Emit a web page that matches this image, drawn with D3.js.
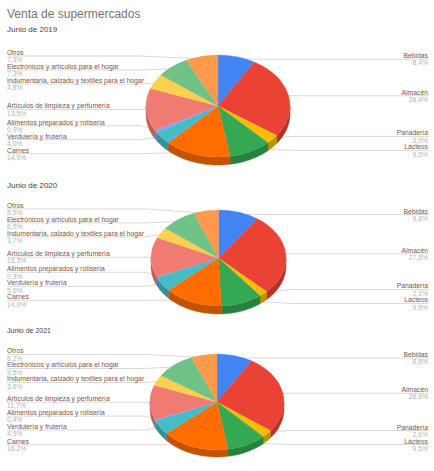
<!DOCTYPE html>
<html>
<head>
<meta charset="utf-8">
<script src="https://cdn.jsdelivr.net/npm/d3@7"></script>
<style>
  body { margin: 0; background: #fff; }
  svg { display: block; font-family: "Liberation Sans", Arial, sans-serif; }
</style>
</head>
<body>
<svg id="chart" width="434" height="471"></svg>
<script>
// rubros, en el orden en que Sheets los dibuja (desde las 12, sentido horario)
const categories = [
  "Bebidas", "Almacén", "Panadería", "Lácteos", "Carnes",
  "Verdulería y frutería", "Alimentos preparados y rotisería",
  "Artículos de limpieza y perfumería",
  "Indumentaria, calzado y textiles para el hogar",
  "Electrónicos y artículos para el hogar", "Otros"
];
const values2019 = [8.4, 26.4, 3.0, 9.5, 14.9, 4.0, 0.9, 13.5, 4.8, 7.3, 7.3];
const values2020 = [9.8, 27.6, 2.1, 9.9, 14.0, 5.0, 0.3, 13.3, 3.7, 8.5, 5.9];
const values2021 = [8.6, 26.6, 2.6, 9.5, 16.2, 4.9, 0.4, 11.7, 3.6, 9.5, 6.2];
const periods = ["Junio de 2019", "Junio de 2020", "Junio de 2021"];
const palette = ["#4285f4", "#ea4335", "#fbbc04", "#34a853", "#ff6d01", "#46bdc6",
                 "#7baaf7", "#f07b72", "#fcd04f", "#71c287", "#ff994d"];

const svg = d3.select("#chart");

svg.append("text")
    .attr("x", 7).attr("y", 18)
    .attr("font-size", 12)
    .attr("fill", "#757575")
    .text("Venta de supermercados");

const fmt = v => d3.format(".1f")(v).replace(".", ",") + "%";

function Pie3D(g, values, {
  cx, cy, rx, ry,
  depth = 8,
  gap = 14,
  leftX = 7,
  rightX = 428,
} = {}) {
  const arcs = d3.pie().sort(null).value(d => d)(values);
  const pt = (a, k = 1) => [cx + rx * k * Math.sin(a), cy - ry * k * Math.cos(a)];

  // label anchors and simple collision relaxation per side
  const labels = arcs.map((d, i) => {
    const mid = (d.startAngle + d.endAngle) / 2;
    const [ax, ay] = pt(mid, 0.95);
    return { i, mid, ax, ay, y: ay, right: mid < Math.PI };
  });
  for (const side of [true, false]) {
    const L = labels.filter(l => l.right === side).sort((a, b) => a.y - b.y);
    for (let it = 0; it < 200; it++) {
      for (let k = 1; k < L.length; k++) {
        const over = gap - (L[k].y - L[k - 1].y);
        if (over > 0) { L[k - 1].y -= over / 2; L[k].y += over / 2; }
      }
    }
  }

  // leader lines under the pie
  const lineG = g.append("g").attr("fill", "none").attr("stroke", "#cfcfcf").attr("stroke-width", 0.8);
  labels.forEach(l => {
    const pts = l.right
      ? [[l.ax, l.ay], [Math.max(l.ax + 8, cx + rx + 6), l.y], [rightX + 1, l.y]]
      : [[l.ax, l.ay], [Math.min(l.ax - 8, cx - rx - 6), l.y], [leftX, l.y]];
    lineG.append("path").attr("d", d3.line()(pts));
  });

  // front rim
  const rim = g.append("g");
  arcs.forEach((d, i) => {
    const s = Math.max(d.startAngle, Math.PI / 2);
    const e = Math.min(d.endAngle, 3 * Math.PI / 2);
    if (s >= e) return;
    const n = Math.max(2, Math.ceil((e - s) / 0.03));
    const top = d3.range(n + 1).map(k => pt(s + (e - s) * k / n));
    const bottom = top.slice().reverse().map(([x, y]) => [x, y + depth]);
    rim.append("path")
        .attr("d", d3.line()(top.concat(bottom)) + "Z")
        .attr("fill", d3.color(palette[i]).darker(0.75))
        .attr("stroke", d3.color(palette[i]).darker(0.75))
        .attr("stroke-width", 0.4);
  });

  // top face: circular arcs squashed into an ellipse
  const arc = d3.arc().innerRadius(0).outerRadius(rx);
  g.append("g")
      .attr("transform", `translate(${cx},${cy}) scale(1,${ry / rx})`)
    .selectAll("path")
    .data(arcs)
    .join("path")
      .attr("d", arc)
      .attr("fill", (d, i) => palette[i])
      .attr("stroke", (d, i) => palette[i])
      .attr("stroke-width", 0.4);

  // label texts
  const txt = g.append("g").attr("font-size", 6.8);
  labels.forEach(l => {
    const x = l.right ? rightX : leftX;
    const anchor = l.right ? "end" : "start";
    txt.append("text")
        .attr("x", x).attr("y", l.y - 1)
        .attr("text-anchor", anchor)
        .attr("fill", "#80564b")
        .text(categories[l.i]);
    txt.append("text")
        .attr("x", x).attr("y", l.y + 6.2)
        .attr("text-anchor", anchor)
        .attr("fill", "#b5b5b5")
        .text(fmt(values[l.i]));
  });
}

const panels = [
  { values: values2019, titleY: 32, titleSize: 8, cx: 218, cy: 106, rx: 72, ry: 51, depth: 8 },
  { values: values2020, titleY: 188, titleSize: 8, cx: 218.5, cy: 258, rx: 67.5, ry: 48, depth: 8 },
  { values: values2021, titleY: 333, titleSize: 7, cx: 217, cy: 402, rx: 67, ry: 48, depth: 7 },
];

panels.forEach((p, k) => {
  const g = svg.append("g");
  g.append("text")
      .attr("x", 7).attr("y", p.titleY)
      .attr("font-size", p.titleSize)
      .attr("fill", "#444")
      .text(periods[k]);
  Pie3D(g, p.values, { cx: p.cx, cy: p.cy, rx: p.rx, ry: p.ry, depth: p.depth });
});
</script>
</body>
</html>
